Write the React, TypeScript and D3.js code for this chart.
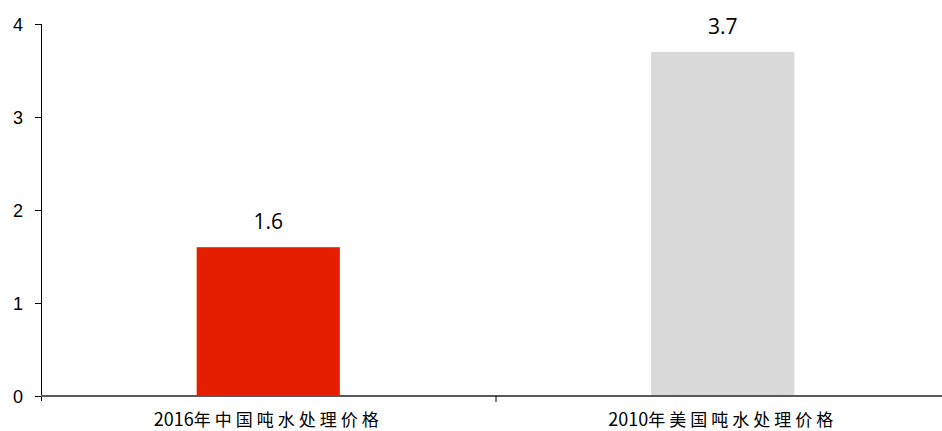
import React, { useEffect, useRef } from 'react'
import * as d3 from 'd3'

const categories: string[] = ['2016年中国吨水处理价格', '2010年美国吨水处理价格']
const values: number[] = [1.6, 3.7]
const barColors: string[] = ['#E61E00', '#D9D9D9']
const yTicks: number[] = [0, 1, 2, 3, 4]

export default function App() {
    const ref = useRef<SVGSVGElement>(null)

    const width = 942, height = 431
    const left = 41, right = 950, top = 24, bottom = 396

    useEffect(() => {
        const svg = d3.select(ref.current)
        svg.selectAll('*').remove()

        const x = d3.scaleBand<string>()
            .domain(categories)
            .range([left, right])
            .paddingInner(0)
            .paddingOuter(0)

        const y = d3.scaleLinear()
            .domain([0, 4])
            .range([bottom, top])

        const barW = x.bandwidth() * 0.315

        // bars
        svg.append('g')
            .selectAll('rect')
            .data(values)
            .enter()
            .append('rect')
            .attr('x', (d, i) => x(categories[i])! + x.bandwidth() / 2 - barW / 2)
            .attr('y', d => y(d))
            .attr('width', barW)
            .attr('height', d => y(0) - y(d))
            .attr('fill', (d, i) => barColors[i])

        // value labels
        svg.append('g')
            .selectAll('text')
            .data(values)
            .enter()
            .append('text')
            .attr('x', (d, i) => x(categories[i])! + x.bandwidth() / 2)
            .attr('y', d => y(d) - 18)
            .attr('text-anchor', 'middle')
            .style('font-family', '"Open Sans", "Noto Sans", sans-serif')
            .style('font-size', '21px')
            .style('fill', '#000')
            .text(d => d.toFixed(1))

        // y axis
        svg.append('line')
            .attr('x1', left + 0.5).attr('x2', left + 0.5)
            .attr('y1', top).attr('y2', bottom + 5)
            .attr('stroke', '#000')

        svg.append('g')
            .selectAll('line')
            .data(yTicks)
            .enter()
            .append('line')
            .attr('x1', left - 6).attr('x2', left)
            .attr('y1', d => Math.round(y(d)) + 0.5)
            .attr('y2', d => Math.round(y(d)) + 0.5)
            .attr('stroke', '#000')

        svg.append('g')
            .selectAll('text')
            .data(yTicks)
            .enter()
            .append('text')
            .attr('x', 23)
            .attr('y', d => y(d) + 6.5)
            .attr('text-anchor', 'end')
            .style('font-family', '"Liberation Sans", Arial, sans-serif')
            .style('font-size', '18px')
            .style('fill', '#000')
            .text(d => d)

        // x axis
        svg.append('line')
            .attr('x1', left).attr('x2', width)
            .attr('y1', bottom).attr('y2', bottom)
            .attr('stroke', '#595959')
            .attr('stroke-width', 2)

        svg.append('g')
            .selectAll('line')
            .data(categories.slice(1))
            .enter()
            .append('line')
            .attr('x1', d => x(d)! + 0.5).attr('x2', d => x(d)! + 0.5)
            .attr('y1', bottom).attr('y2', bottom + 6)
            .attr('stroke', '#000')

        const labels = svg.append('g')
            .selectAll('text')
            .data(categories)
            .enter()
            .append('text')
            .attr('x', d => x(d)! + x.bandwidth() / 2)
            .attr('y', 426)
            .attr('text-anchor', 'middle')
            .style('font-family', '"Noto Sans CJK SC", sans-serif')
            .style('fill', '#000')

        labels.append('tspan')
            .style('font-size', '18px')
            .text(d => d.slice(0, 4))

        labels.append('tspan')
            .style('font-size', '17px')
            .style('letter-spacing', '4px')
            .text(d => d.slice(4))
    }, [])

    return (
        <svg ref={ref} width={width} height={height}
            style={{ position: 'absolute', left: 0, top: 0, background: '#fff' }} />
    )
}
